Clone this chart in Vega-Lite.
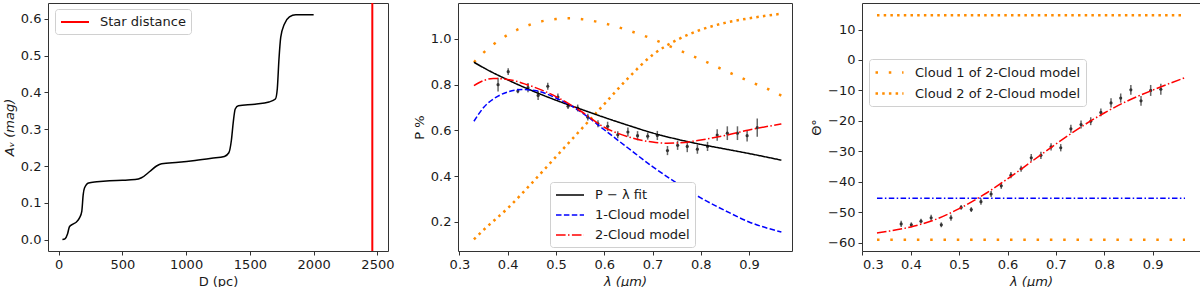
{
  "$schema": "https://vega.github.io/schema/vega-lite/v6.json",
  "padding": {"left": 2, "top": 1, "right": 0, "bottom": 0},
  "background": "white",
  "spacing": 70,
  "bounds": "flush",
  "config": {
    "font": "DejaVu Sans",
    "view": {"stroke": "#333333", "strokeWidth": 1},
    "axis": {
      "labelFont": "DejaVu Sans", "labelFontSize": 13, "labelColor": "#1a1a1a",
      "titleFont": "DejaVu Sans", "titleFontSize": 13, "titleFontWeight": "normal", "titleColor": "#1a1a1a",
      "tickColor": "#333333", "tickSize": 4, "domain": false, "grid": false,
      "labelPadding": 3, "titlePadding": 4, "labelOverlap": false, "tickCount": 20
    },
    "legend": {
      "labelFont": "DejaVu Sans", "labelFontSize": 13, "labelColor": "#1a1a1a", "labelLimit": 400,
      "fillColor": "white", "strokeColor": "#d0d0d0", "cornerRadius": 3, "padding": 5,
      "symbolType": "M-1,0H3", "symbolSize": 196, "symbolStrokeWidth": 1.5,
      "labelOffset": 24, "rowPadding": 5, "orient": "none", "title": null
    }
  },
  "resolve": {
    "scale": {"x": "independent", "y": "independent", "color": "independent", "strokeDash": "independent"},
    "legend": {"color": "independent", "strokeDash": "independent"}
  },
  "datasets": {
    "av": [
      {"D": 30, "A": 0.0}, {"D": 50, "A": 0.002}, {"D": 70, "A": 0.015}, {"D": 85, "A": 0.035},
      {"D": 112, "A": 0.042}, {"D": 140, "A": 0.048}, {"D": 164, "A": 0.059}, {"D": 182, "A": 0.077},
      {"D": 193, "A": 0.122}, {"D": 203, "A": 0.14}, {"D": 235, "A": 0.154}, {"D": 300, "A": 0.157},
      {"D": 400, "A": 0.16}, {"D": 500, "A": 0.161}, {"D": 600, "A": 0.163}, {"D": 650, "A": 0.168},
      {"D": 715, "A": 0.185}, {"D": 768, "A": 0.2}, {"D": 808, "A": 0.206}, {"D": 940, "A": 0.21},
      {"D": 1070, "A": 0.215}, {"D": 1200, "A": 0.221}, {"D": 1300, "A": 0.226}, {"D": 1335, "A": 0.236},
      {"D": 1355, "A": 0.27}, {"D": 1370, "A": 0.32}, {"D": 1385, "A": 0.355}, {"D": 1410, "A": 0.364},
      {"D": 1540, "A": 0.368}, {"D": 1650, "A": 0.374}, {"D": 1700, "A": 0.382}, {"D": 1715, "A": 0.41},
      {"D": 1728, "A": 0.49}, {"D": 1742, "A": 0.55}, {"D": 1770, "A": 0.585}, {"D": 1810, "A": 0.605},
      {"D": 1860, "A": 0.611}, {"D": 2000, "A": 0.611}
    ],
    "star": [{"D": 2460, "s": "Star distance"}],
    "pfits": [
      {"lam": 0.33, "P": 0.898, "s": "P − λ fit"}, {"lam": 0.35, "P": 0.874, "s": "P − λ fit"},
      {"lam": 0.40, "P": 0.821, "s": "P − λ fit"}, {"lam": 0.45, "P": 0.774, "s": "P − λ fit"},
      {"lam": 0.50, "P": 0.732, "s": "P − λ fit"}, {"lam": 0.55, "P": 0.694, "s": "P − λ fit"},
      {"lam": 0.60, "P": 0.657, "s": "P − λ fit"}, {"lam": 0.65, "P": 0.622, "s": "P − λ fit"},
      {"lam": 0.70, "P": 0.589, "s": "P − λ fit"}, {"lam": 0.75, "P": 0.562, "s": "P − λ fit"},
      {"lam": 0.80, "P": 0.539, "s": "P − λ fit"}, {"lam": 0.85, "P": 0.519, "s": "P − λ fit"},
      {"lam": 0.90, "P": 0.499, "s": "P − λ fit"}, {"lam": 0.967, "P": 0.470, "s": "P − λ fit"},
      {"lam": 0.33, "P": 0.64, "s": "1-Cloud model"}, {"lam": 0.35, "P": 0.70, "s": "1-Cloud model"},
      {"lam": 0.38, "P": 0.75, "s": "1-Cloud model"}, {"lam": 0.40, "P": 0.768, "s": "1-Cloud model"},
      {"lam": 0.43, "P": 0.779, "s": "1-Cloud model"}, {"lam": 0.46, "P": 0.773, "s": "1-Cloud model"},
      {"lam": 0.50, "P": 0.742, "s": "1-Cloud model"}, {"lam": 0.55, "P": 0.683, "s": "1-Cloud model"},
      {"lam": 0.60, "P": 0.603, "s": "1-Cloud model"}, {"lam": 0.65, "P": 0.522, "s": "1-Cloud model"},
      {"lam": 0.70, "P": 0.442, "s": "1-Cloud model"}, {"lam": 0.75, "P": 0.37, "s": "1-Cloud model"},
      {"lam": 0.80, "P": 0.305, "s": "1-Cloud model"}, {"lam": 0.85, "P": 0.25, "s": "1-Cloud model"},
      {"lam": 0.90, "P": 0.20, "s": "1-Cloud model"}, {"lam": 0.967, "P": 0.156, "s": "1-Cloud model"},
      {"lam": 0.33, "P": 0.796, "s": "2-Cloud model"}, {"lam": 0.35, "P": 0.818, "s": "2-Cloud model"},
      {"lam": 0.37, "P": 0.827, "s": "2-Cloud model"}, {"lam": 0.40, "P": 0.823, "s": "2-Cloud model"},
      {"lam": 0.44, "P": 0.80, "s": "2-Cloud model"}, {"lam": 0.50, "P": 0.748, "s": "2-Cloud model"},
      {"lam": 0.55, "P": 0.686, "s": "2-Cloud model"}, {"lam": 0.60, "P": 0.614, "s": "2-Cloud model"},
      {"lam": 0.65, "P": 0.572, "s": "2-Cloud model"}, {"lam": 0.70, "P": 0.549, "s": "2-Cloud model"},
      {"lam": 0.73, "P": 0.544, "s": "2-Cloud model"}, {"lam": 0.75, "P": 0.545, "s": "2-Cloud model"},
      {"lam": 0.80, "P": 0.558, "s": "2-Cloud model"}, {"lam": 0.85, "P": 0.578, "s": "2-Cloud model"},
      {"lam": 0.90, "P": 0.602, "s": "2-Cloud model"}, {"lam": 0.967, "P": 0.628, "s": "2-Cloud model"}
    ],
    "pcloud1": [
      {"lam": 0.33, "P": 0.898}, {"lam": 0.35, "P": 0.94}, {"lam": 0.37, "P": 0.975}, {"lam": 0.40, "P": 1.018},
      {"lam": 0.45, "P": 1.065}, {"lam": 0.50, "P": 1.087}, {"lam": 0.53, "P": 1.09}, {"lam": 0.55, "P": 1.087},
      {"lam": 0.60, "P": 1.068}, {"lam": 0.65, "P": 1.037}, {"lam": 0.70, "P": 1.0}, {"lam": 0.75, "P": 0.955},
      {"lam": 0.80, "P": 0.91}, {"lam": 0.85, "P": 0.862}, {"lam": 0.90, "P": 0.815}, {"lam": 0.94, "P": 0.78},
      {"lam": 0.967, "P": 0.752}
    ],
    "pcloud2": [
      {"lam": 0.33, "P": 0.124}, {"lam": 0.35, "P": 0.165}, {"lam": 0.40, "P": 0.26}, {"lam": 0.45, "P": 0.37},
      {"lam": 0.50, "P": 0.485}, {"lam": 0.55, "P": 0.6}, {"lam": 0.60, "P": 0.715}, {"lam": 0.65, "P": 0.83},
      {"lam": 0.70, "P": 0.93}, {"lam": 0.75, "P": 0.995}, {"lam": 0.80, "P": 1.04}, {"lam": 0.85, "P": 1.07},
      {"lam": 0.90, "P": 1.09}, {"lam": 0.967, "P": 1.11}
    ],
    "pobs": [
      {"lam": 0.380, "P": 0.800, "e": 0.030}, {"lam": 0.401, "P": 0.857, "e": 0.015},
      {"lam": 0.421, "P": 0.772, "e": 0.010}, {"lam": 0.442, "P": 0.787, "e": 0.020},
      {"lam": 0.463, "P": 0.753, "e": 0.020}, {"lam": 0.483, "P": 0.793, "e": 0.015},
      {"lam": 0.504, "P": 0.746, "e": 0.015}, {"lam": 0.525, "P": 0.706, "e": 0.012},
      {"lam": 0.545, "P": 0.698, "e": 0.015}, {"lam": 0.566, "P": 0.658, "e": 0.015},
      {"lam": 0.587, "P": 0.629, "e": 0.015}, {"lam": 0.607, "P": 0.618, "e": 0.020},
      {"lam": 0.628, "P": 0.581, "e": 0.015}, {"lam": 0.649, "P": 0.593, "e": 0.020},
      {"lam": 0.669, "P": 0.577, "e": 0.020}, {"lam": 0.690, "P": 0.575, "e": 0.015},
      {"lam": 0.710, "P": 0.578, "e": 0.020}, {"lam": 0.731, "P": 0.512, "e": 0.020},
      {"lam": 0.752, "P": 0.535, "e": 0.020}, {"lam": 0.772, "P": 0.530, "e": 0.025},
      {"lam": 0.793, "P": 0.518, "e": 0.020}, {"lam": 0.814, "P": 0.530, "e": 0.020},
      {"lam": 0.834, "P": 0.580, "e": 0.025}, {"lam": 0.855, "P": 0.588, "e": 0.030},
      {"lam": 0.876, "P": 0.588, "e": 0.030}, {"lam": 0.896, "P": 0.577, "e": 0.025},
      {"lam": 0.917, "P": 0.612, "e": 0.040}
    ],
    "tclouds": [
      {"lam": 0.33, "T": -59.0, "s": "Cloud 1 of 2-Cloud model"}, {"lam": 0.967, "T": -59.0, "s": "Cloud 1 of 2-Cloud model"},
      {"lam": 0.33, "T": 14.7, "s": "Cloud 2 of 2-Cloud model"}, {"lam": 0.967, "T": 14.7, "s": "Cloud 2 of 2-Cloud model"}
    ],
    "tone": [{"lam": 0.33, "T": -45.4}, {"lam": 0.967, "T": -45.4}],
    "ttwo": [
      {"lam": 0.33, "T": -56.8}, {"lam": 0.35, "T": -56.3}, {"lam": 0.40, "T": -54.8}, {"lam": 0.45, "T": -52.4},
      {"lam": 0.50, "T": -48.8}, {"lam": 0.55, "T": -44.3}, {"lam": 0.60, "T": -39.0}, {"lam": 0.65, "T": -33.3},
      {"lam": 0.70, "T": -27.6}, {"lam": 0.75, "T": -22.2}, {"lam": 0.80, "T": -17.4}, {"lam": 0.85, "T": -13.3},
      {"lam": 0.90, "T": -9.9}, {"lam": 0.967, "T": -5.8}
    ],
    "tobs": [
      {"lam": 0.380, "T": -53.8, "e": 1.0}, {"lam": 0.401, "T": -54.1, "e": 0.8},
      {"lam": 0.421, "T": -52.9, "e": 0.8}, {"lam": 0.442, "T": -51.8, "e": 1.0},
      {"lam": 0.463, "T": -54.1, "e": 0.8}, {"lam": 0.483, "T": -51.8, "e": 1.0},
      {"lam": 0.504, "T": -48.4, "e": 0.8}, {"lam": 0.525, "T": -49.1, "e": 0.8},
      {"lam": 0.545, "T": -46.5, "e": 1.0}, {"lam": 0.566, "T": -44.0, "e": 1.0},
      {"lam": 0.587, "T": -41.3, "e": 1.0}, {"lam": 0.607, "T": -37.8, "e": 1.0},
      {"lam": 0.628, "T": -35.7, "e": 1.0}, {"lam": 0.649, "T": -32.1, "e": 1.2},
      {"lam": 0.669, "T": -31.3, "e": 1.2}, {"lam": 0.690, "T": -28.5, "e": 1.2},
      {"lam": 0.710, "T": -28.8, "e": 1.2}, {"lam": 0.731, "T": -22.6, "e": 1.3},
      {"lam": 0.752, "T": -21.2, "e": 1.3}, {"lam": 0.772, "T": -20.1, "e": 1.3},
      {"lam": 0.793, "T": -17.2, "e": 1.3}, {"lam": 0.814, "T": -14.1, "e": 1.5},
      {"lam": 0.834, "T": -12.5, "e": 1.5}, {"lam": 0.855, "T": -9.8, "e": 1.6},
      {"lam": 0.876, "T": -13.4, "e": 1.6}, {"lam": 0.896, "T": -10.0, "e": 1.8},
      {"lam": 0.917, "T": -9.6, "e": 1.8}
    ]
  },
  "hconcat": [
    {
      "width": 340, "height": 248,
      "layer": [
        {
          "data": {"name": "av"},
          "mark": {"type": "line", "color": "black", "strokeWidth": 1.5, "interpolate": "monotone"},
          "encoding": {
            "x": {"field": "D", "type": "quantitative", "scale": {"domain": [-83, 2583], "nice": false, "zero": false},
                  "axis": {"title": "D (pc)", "values": [0, 500, 1000, 1500, 2000, 2500], "format": "d", "tickCount": 20}},
            "y": {"field": "A", "type": "quantitative", "scale": {"domain": [-0.031, 0.643], "nice": false, "zero": false},
                  "axis": {"title": "Aᵥ (mag)", "titleFontStyle": "italic", "values": [0, 0.1, 0.2, 0.3, 0.4, 0.5, 0.6], "format": ".1f", "tickCount": 20}}
          }
        },
        {
          "data": {"name": "star"},
          "mark": {"type": "rule", "strokeWidth": 2},
          "encoding": {
            "x": {"field": "D", "type": "quantitative"},
            "color": {"field": "s", "type": "nominal", "scale": {"range": ["#ff0000"]},
                      "legend": {"legendX": 7, "legendY": 6, "symbolStrokeWidth": 2}}
          }
        }
      ]
    },
    {
      "width": 334, "height": 248,
      "layer": [
        {
          "data": {"name": "pcloud1"},
          "mark": {"type": "line", "color": "#ff8c00", "strokeWidth": 2.5, "strokeDash": [2.5, 10.8], "interpolate": "monotone"},
          "encoding": {
            "x": {"field": "lam", "type": "quantitative", "scale": {"domain": [0.297, 0.989], "nice": false, "zero": false},
                  "axis": {"title": "λ (μm)", "titleFontStyle": "italic", "values": [0.3, 0.4, 0.5, 0.6, 0.7, 0.8, 0.9], "format": ".1f", "tickCount": 20}},
            "y": {"field": "P", "type": "quantitative", "scale": {"domain": [0.073, 1.157], "nice": false, "zero": false},
                  "axis": {"title": "P %", "values": [0.2, 0.4, 0.6, 0.8, 1.0], "format": ".1f", "tickCount": 20}}
          }
        },
        {
          "data": {"name": "pcloud2"},
          "mark": {"type": "line", "color": "#ff8c00", "strokeWidth": 2.5, "strokeDash": [2.5, 4.2], "interpolate": "monotone"},
          "encoding": {
            "x": {"field": "lam", "type": "quantitative"},
            "y": {"field": "P", "type": "quantitative"}
          }
        },
        {
          "data": {"name": "pobs"},
          "transform": [{"calculate": "datum.P - datum.e", "as": "lo"}, {"calculate": "datum.P + datum.e", "as": "hi"}],
          "mark": {"type": "rule", "color": "#333333", "strokeWidth": 1.5, "opacity": 0.75},
          "encoding": {
            "x": {"field": "lam", "type": "quantitative"},
            "y": {"field": "lo", "type": "quantitative"},
            "y2": {"field": "hi"}
          }
        },
        {
          "data": {"name": "pobs"},
          "mark": {"type": "point", "filled": true, "color": "#333333", "size": 10, "opacity": 1},
          "encoding": {
            "x": {"field": "lam", "type": "quantitative"},
            "y": {"field": "P", "type": "quantitative"}
          }
        },
        {
          "data": {"name": "pfits"},
          "mark": {"type": "line", "strokeWidth": 1.5, "interpolate": "monotone"},
          "encoding": {
            "x": {"field": "lam", "type": "quantitative"},
            "y": {"field": "P", "type": "quantitative"},
            "color": {"field": "s", "type": "nominal",
                      "scale": {"domain": ["P − λ fit", "1-Cloud model", "2-Cloud model"], "range": ["#000000", "#0000ff", "#ff0000"]},
                      "legend": {"legendX": 92, "legendY": 179}},
            "strokeDash": {"field": "s", "type": "nominal",
                      "scale": {"domain": ["P − λ fit", "1-Cloud model", "2-Cloud model"], "range": [[1, 0], [5.5, 2.4], [9.6, 2.4, 1.5, 2.4]]},
                      "legend": {"legendX": 92, "legendY": 179}}
          }
        }
      ]
    },
    {
      "width": 338, "height": 248,
      "layer": [
        {
          "data": {"name": "tclouds"},
          "mark": {"type": "line", "strokeWidth": 2.5},
          "encoding": {
            "x": {"field": "lam", "type": "quantitative", "scale": {"domain": [0.299, 0.998], "nice": false, "zero": false},
                  "axis": {"title": "λ (μm)", "titleFontStyle": "italic", "values": [0.3, 0.4, 0.5, 0.6, 0.7, 0.8, 0.9], "format": ".1f", "tickCount": 20}},
            "y": {"field": "T", "type": "quantitative", "scale": {"domain": [-62.7, 18.7], "nice": false, "zero": false},
                  "axis": {"title": "Θ°", "values": [-60, -50, -40, -30, -20, -10, 0, 10], "format": "d", "tickCount": 20}},
            "color": {"field": "s", "type": "nominal",
                      "scale": {"domain": ["Cloud 1 of 2-Cloud model", "Cloud 2 of 2-Cloud model"], "range": ["#ff8c00", "#ff8c00"]},
                      "legend": {"legendX": 7, "legendY": 56, "symbolStrokeWidth": 2.5}},
            "strokeDash": {"field": "s", "type": "nominal",
                      "scale": {"domain": ["Cloud 1 of 2-Cloud model", "Cloud 2 of 2-Cloud model"], "range": [[2.5, 10.8], [2.5, 4.2]]},
                      "legend": {"legendX": 7, "legendY": 56, "symbolStrokeWidth": 2.5}}
          }
        },
        {
          "data": {"name": "tone"},
          "mark": {"type": "line", "color": "#0000ff", "strokeWidth": 1.5, "strokeDash": [5.5, 2.4, 1.5, 2.4]},
          "encoding": {
            "x": {"field": "lam", "type": "quantitative"},
            "y": {"field": "T", "type": "quantitative"}
          }
        },
        {
          "data": {"name": "tobs"},
          "transform": [{"calculate": "datum.T - datum.e", "as": "lo"}, {"calculate": "datum.T + datum.e", "as": "hi"}],
          "mark": {"type": "rule", "color": "#333333", "strokeWidth": 1.5, "opacity": 0.75},
          "encoding": {
            "x": {"field": "lam", "type": "quantitative"},
            "y": {"field": "lo", "type": "quantitative"},
            "y2": {"field": "hi"}
          }
        },
        {
          "data": {"name": "tobs"},
          "mark": {"type": "point", "filled": true, "color": "#333333", "size": 10, "opacity": 1},
          "encoding": {
            "x": {"field": "lam", "type": "quantitative"},
            "y": {"field": "T", "type": "quantitative"}
          }
        },
        {
          "data": {"name": "ttwo"},
          "mark": {"type": "line", "color": "#ff0000", "strokeWidth": 1.5, "strokeDash": [9.6, 2.4, 1.5, 2.4], "interpolate": "monotone"},
          "encoding": {
            "x": {"field": "lam", "type": "quantitative"},
            "y": {"field": "T", "type": "quantitative"}
          }
        }
      ]
    }
  ]
}
